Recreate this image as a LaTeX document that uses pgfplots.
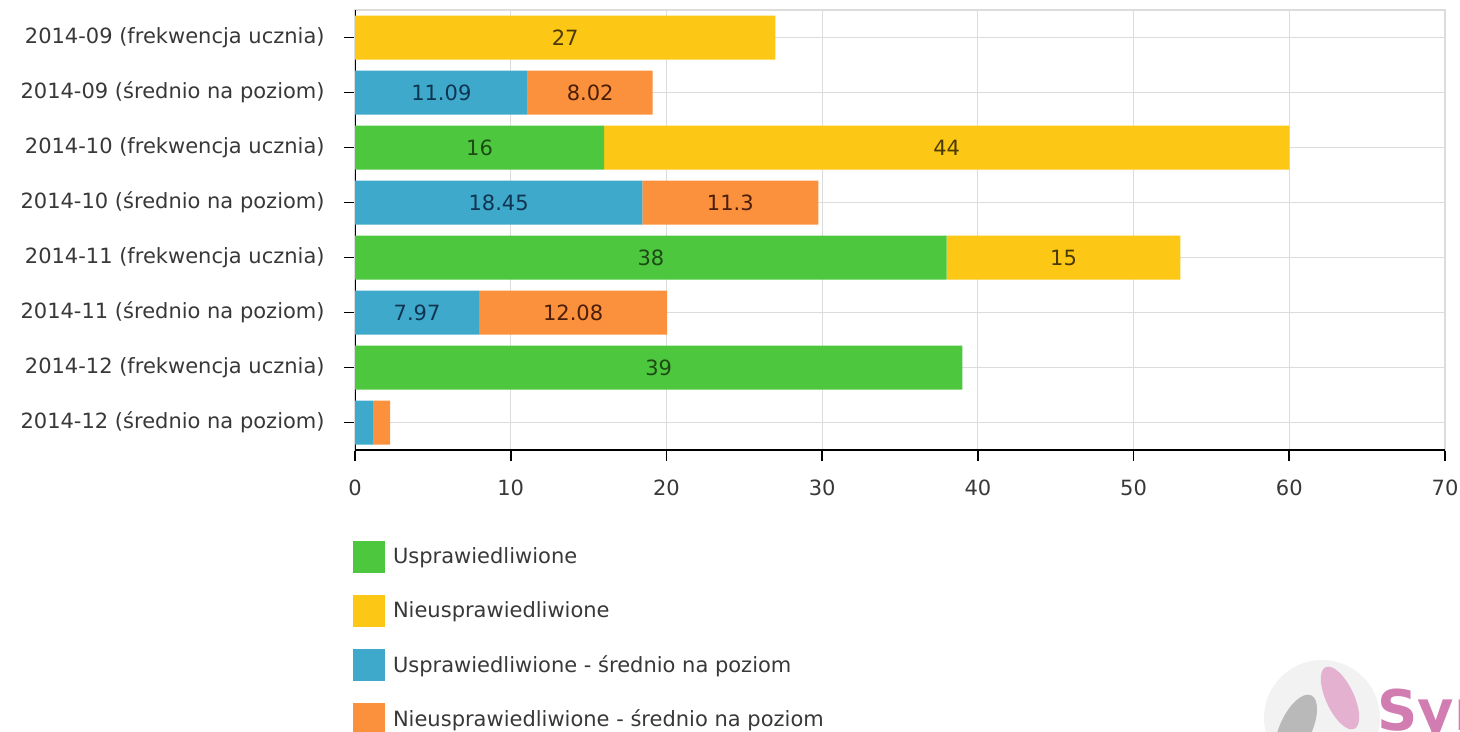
\documentclass[border=0pt]{standalone}
\usepackage{fontspec}
\setmainfont{DejaVu Sans}
\usepackage{pgfplots}
\usepackage{pgfplotstable}
\pgfplotsset{compat=1.18}
\definecolor{cg}{HTML}{4CC73E}
\definecolor{cgt}{HTML}{1E4A14}
\definecolor{cy}{HTML}{FDC715}
\definecolor{cyt}{HTML}{4A3A05}
\definecolor{cb}{HTML}{3FA9CC}
\definecolor{cbt}{HTML}{0F3550}
\definecolor{co}{HTML}{FC913D}
\definecolor{cot}{HTML}{4A1E08}
\definecolor{txt}{HTML}{383838}
\definecolor{grd}{HTML}{DCDCDC}
\definecolor{pinklogo}{HTML}{D27DB2}
\pgfplotstableread{
c g gl y yl b bl o ol
0 0 {} 27 27 0 {} 0 {}
1 0 {} 0 {} 11.09 11.09 8.02 8.02
2 16 16 44 44 0 {} 0 {}
3 0 {} 0 {} 18.45 18.45 11.3 11.3
4 38 38 15 15 0 {} 0 {}
5 0 {} 0 {} 7.97 7.97 12.08 12.08
6 39 39 0 {} 0 {} 0 {}
7 0 {} 0 {} 1.15 {} 1.1 {}
}\data
\begin{document}
\begin{tikzpicture}
\useasboundingbox (0,0) rectangle (730pt,366pt);
% logo watermark
\fill[gray!10] (661pt,7pt) circle (29pt);
\fill[pinklogo!60] (670pt,17pt) ellipse [x radius=7pt, y radius=17pt, rotate=25];
\fill[gray!55] (648pt,2pt) ellipse [x radius=8pt, y radius=18pt, rotate=-25];
\node[anchor=base west, inner sep=0pt, text=pinklogo, font=\fontsize{28}{30}\selectfont\bfseries] at (688.5pt,0.5pt) {Syn};
\begin{axis}[
  at={(177.5pt,141pt)}, anchor=south west,
  scale only axis, width=545pt, height=220pt,
  xbar stacked, bar width=0.8,
  xmin=0, xmax=70, ymin=-0.5, ymax=7.5, y dir=reverse,
  xtick={0,10,...,70},
  ytick={0,...,7},
  yticklabels={2014-09 (frekwencja ucznia),2014-09 (średnio na poziom),2014-10 (frekwencja ucznia),2014-10 (średnio na poziom),2014-11 (frekwencja ucznia),2014-11 (średnio na poziom),2014-12 (frekwencja ucznia),2014-12 (średnio na poziom)},
  xtick pos=left, ytick pos=left,
  tick align=outside, major tick length=5.5pt,
  tick style={black, line width=0.8pt},
  grid=major, major grid style={draw=grd, line width=0.6pt},
  axis line style={draw=grd, line width=0.6pt},
  /pgf/number format/assume math mode=true,
  ticklabel style={font=\fontsize{10.5}{12}\selectfont, text=txt, inner sep=0pt},
  yticklabel style={xshift=-9.5pt},
  xticklabel style={yshift=-9.2pt},
  point meta=explicit symbolic,
  nodes near coords,
  every node near coord/.append style={anchor=center, inner sep=0pt, font=\fontsize{10.5}{12}\selectfont},
  legend cell align=left,
  legend image code/.code={\fill[#1, draw=none] (0pt,-8pt) rectangle (16pt,8pt);},
  legend style={at={(axis description cs:-0.0018,-0.207)}, anchor=north west, draw=none, fill=none, inner sep=0pt, outer sep=0pt, row sep=11pt, column sep=4pt, font=\fontsize{10.5}{12}\selectfont, text=txt, nodes={inner sep=0pt}},
]
\addplot[fill=cg, draw=none, every node near coord/.append style={text=cgt}] table[x=g, y=c, meta=gl] {\data};
\addlegendentry{Usprawiedliwione}
\addplot[fill=cy, draw=none, every node near coord/.append style={text=cyt}] table[x=y, y=c, meta=yl] {\data};
\addlegendentry{Nieusprawiedliwione}
\addplot[fill=cb, draw=none, every node near coord/.append style={text=cbt}] table[x=b, y=c, meta=bl] {\data};
\addlegendentry{Usprawiedliwione - średnio na poziom}
\addplot[fill=co, draw=none, every node near coord/.append style={text=cot}] table[x=o, y=c, meta=ol] {\data};
\addlegendentry{Nieusprawiedliwione - średnio na poziom}
\draw[black, line width=0.9pt] (rel axis cs:0,0) -- (rel axis cs:0,1);
\draw[black, line width=0.9pt] (rel axis cs:0,0) -- (rel axis cs:1,0);
\end{axis}
\end{tikzpicture}
\end{document}
